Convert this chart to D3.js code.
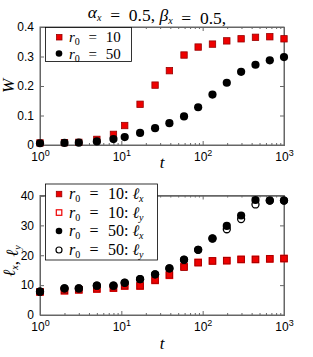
<!DOCTYPE html>
<html>
<head>
<meta charset="utf-8">
<script src="https://cdn.jsdelivr.net/npm/d3@7"></script>
<style>
  body { margin: 0; background: #fff; }
  svg { display: block; }
  .tick text { font-family: "Liberation Sans", Arial, sans-serif; font-size: 12px; fill: #000; }
</style>
</head>
<body>
<script>
// tiempos (eje x, log)
var tiempos = [1, 2, 3, 5, 8, 11, 17, 26, 39, 59, 88, 132, 198, 297, 446, 669, 1000];

// panel superior: W
var W_r10 = [0.007, 0.008, 0.009, 0.019, 0.036, 0.066, 0.138, 0.203, 0.252, 0.305, 0.332, 0.342, 0.353, 0.360, 0.365, 0.367, 0.360];
var W_r50 = [0.006, 0.007, 0.008, 0.012, 0.020, 0.027, 0.041, 0.057, 0.074, 0.097, 0.128, 0.171, 0.211, 0.248, 0.272, 0.287, 0.298];

// panel inferior: lx, ly
var lx_r10 = [7.8, 8.2, 8.5, 8.8, 9.1, 9.8, 9.8, 11.7, 13.5, 16.0, 17.5, 18.1, 18.2, 18.6, 18.6, 18.8, 18.9];
var ly_r10 = [7.7, 8.1, 8.4, 8.7, 9.0, 9.7, 9.7, 11.6, 13.3, 16.2, 17.6, 18.1, 18.2, 18.6, 18.6, 18.8, 18.9];
var lx_r50 = [7.8, 8.9, 8.9, 9.8, 9.8, 10.8, 12.0, 13.6, 15.6, 18.5, 21.8, 25.6, 29.8, 33.3, 38.5, 38.3, 38.3];
var ly_r50 = [7.8, 8.9, 8.9, 9.8, 9.8, 10.8, 12.0, 13.6, 15.6, 18.5, 21.8, 25.6, 28.7, 32.1, 37.0, 38.3, 38.3];

var ticksW = [0, 0.1, 0.2, 0.3, 0.4];
var ticksL = [0, 10, 20, 30, 40];
var ticksX = [1, 10, 100, 1000];

var rojo = "#ee0000", rojoBorde = "#990000";
var serif = "'Liberation Serif', 'DejaVu Serif', serif";

var svg = d3.select("body").append("svg").attr("width", 313).attr("height", 357);

var x = d3.scaleLog().domain([1, 1000]).range([40, 284]);

var menores = [];
[1, 10, 100].forEach(function(d) { for (var k = 2; k < 10; k++) menores.push(d * k); });

function panel(top, bottom, yDom, yTicks, yFmt) {
    var y = d3.scaleLinear().domain(yDom).range([bottom, top]);
    var g = svg.append("g");

    // marco
    g.append("rect").attr("x", 40).attr("y", top).attr("width", 244).attr("height", bottom - top)
        .attr("fill", "none").attr("stroke", "#666").attr("stroke-width", 1);

    // ejes
    var ax = g.append("g").attr("transform", "translate(0," + bottom + ")")
        .call(d3.axisBottom(x).tickValues(ticksX).tickSize(-4).tickPadding(7).tickFormat(function() { return ""; }));
    ax.selectAll(".tick text").each(function(d) {
        var t = d3.select(this);
        t.append("tspan").text("10");
        t.append("tspan").attr("dy", "-0.45em").attr("font-size", "9px").text(Math.round(Math.log10(d)));
    });
    g.append("g").attr("transform", "translate(0," + bottom + ")")
        .call(d3.axisBottom(x).tickValues(menores).tickSize(-2).tickFormat(""));
    g.append("g").attr("transform", "translate(0," + top + ")")
        .call(d3.axisTop(x).tickValues(ticksX).tickSize(-4).tickFormat(""));
    g.append("g").attr("transform", "translate(0," + top + ")")
        .call(d3.axisTop(x).tickValues(menores).tickSize(-2).tickFormat(""));
    g.append("g").attr("transform", "translate(40,0)")
        .call(d3.axisLeft(y).tickValues(yTicks).tickSize(-4).tickPadding(6).tickFormat(yFmt));
    g.append("g").attr("transform", "translate(284,0)")
        .call(d3.axisRight(y).tickValues(yTicks).tickSize(-4).tickFormat(""));
    g.selectAll(".domain").attr("stroke", "#666");
    g.selectAll(".tick line").attr("stroke", "#666");
    return { g: g, y: y };
}

function cuadrados(p, vals, lleno) {
    p.g.selectAll(null).data(vals).enter().append("rect")
        .attr("x", function(d, i) { return x(tiempos[i]) - 3.2; })
        .attr("y", function(d) { return p.y(d) - 3.2; })
        .attr("width", 6.4).attr("height", 6.4)
        .attr("fill", lleno ? rojo : "#fff")
        .attr("stroke", lleno ? rojoBorde : rojo).attr("stroke-width", lleno ? 0.8 : 1.3);
}
function circulos(p, vals, lleno) {
    p.g.selectAll(null).data(vals).enter().append("circle")
        .attr("cx", function(d, i) { return x(tiempos[i]); })
        .attr("cy", function(d) { return p.y(d); })
        .attr("r", lleno ? 4.1 : 3.5)
        .attr("fill", lleno ? "#000" : "#fff")
        .attr("stroke", "#000").attr("stroke-width", lleno ? 0 : 1.3);
}

function texto(sel, xx, yy, tam) {
    return sel.append("text").attr("font-family", serif).attr("font-size", tam + "px")
        .attr("x", xx).attr("y", yy).attr("fill", "#000");
}
function sub(t, s) {
    t.append("tspan").attr("dy", 3).attr("font-size", "10px").attr("font-style", "italic").text(s);
    t.append("tspan").attr("dy", -3).text("");
}
// texto matematico
function rTexto(t, resto, ell) {
    t.append("tspan").attr("font-style", "italic").text("r");
    t.append("tspan").attr("dy", 3).attr("font-size", "10px").text("0");
    t.append("tspan").attr("dy", -3).text("\u2002\u200a=\u2002\u200a" + resto);
    if (ell) {
        t.append("tspan").text(":\u2005");
        t.append("tspan").attr("font-style", "italic").text("\u2113");
        sub(t, ell);
    }
}

// ---- panel superior ----
var p1 = panel(27, 145, [0, 0.4], ticksW, function(d) { return d === 0 ? "0" : d3.format(".1f")(d); });
cuadrados(p1, W_r10, true);
circulos(p1, W_r50, true);

var leg1 = svg.append("g");
leg1.append("rect").attr("x", 45.5).attr("y", 27.5).attr("width", 86).attr("height", 34)
    .attr("fill", "#fff").attr("stroke", "#000").attr("stroke-width", 0.8);
leg1.append("rect").attr("x", 56.5).attr("y", 34.5).attr("width", 5.5).attr("height", 5.5)
    .attr("fill", rojo).attr("stroke", rojoBorde).attr("stroke-width", 0.8);
leg1.append("circle").attr("cx", 59).attr("cy", 53.5).attr("r", 3.3).attr("fill", "#000");
rTexto(texto(leg1, 69, 42, 15), "10");
rTexto(texto(leg1, 69, 58.5, 15), "50");

// ---- panel inferior ----
var p2 = panel(195.5, 315, [0, 40], ticksL, function(d) { return d; });
cuadrados(p2, ly_r10, false);
cuadrados(p2, lx_r10, true);
circulos(p2, ly_r50, false);
circulos(p2, lx_r50, true);

var leg2 = svg.append("g");
leg2.append("rect").attr("x", 45.5).attr("y", 184).attr("width", 112).attr("height", 76)
    .attr("fill", "#fff").attr("stroke", "#000").attr("stroke-width", 0.8);
var filas = [194, 212.5, 231, 250];
leg2.append("rect").attr("x", 56.3).attr("y", filas[0] - 2.7).attr("width", 5.5).attr("height", 5.5)
    .attr("fill", rojo).attr("stroke", rojoBorde).attr("stroke-width", 0.8);
leg2.append("rect").attr("x", 56.3).attr("y", filas[1] - 2.7).attr("width", 5.5).attr("height", 5.5)
    .attr("fill", "#fff").attr("stroke", rojo).attr("stroke-width", 1.2);
leg2.append("circle").attr("cx", 59).attr("cy", filas[2]).attr("r", 3.3).attr("fill", "#000");
leg2.append("circle").attr("cx", 59).attr("cy", filas[3]).attr("r", 3).attr("fill", "#fff")
    .attr("stroke", "#000").attr("stroke-width", 1.2);
[["10", "x"], ["10", "y"], ["50", "x"], ["50", "y"]].forEach(function(e, i) {
    rTexto(texto(leg2, 69, filas[i] + 5, 16), e[0], e[1]);
});

// ---- titulo y etiquetas ----
var tit = texto(svg, 157, 18, 17.5).attr("text-anchor", "middle");
tit.append("tspan").attr("font-style", "italic").text("\u03b1");
sub(tit, "x");
tit.append("tspan").text("\u2002=\u20020.5, ");
tit.append("tspan").attr("font-style", "italic").text("\u03b2");
sub(tit, "x");
tit.append("tspan").text("\u2002=\u20020.5,");

texto(svg, 0, 0, 17).attr("font-style", "italic").attr("text-anchor", "middle")
    .attr("transform", "translate(14,86) rotate(-90)").text("W");

var yl = texto(svg, 0, 0, 17).attr("text-anchor", "middle")
    .attr("transform", "translate(15,261) rotate(-90)");
yl.append("tspan").attr("font-style", "italic").text("\u2113");
sub(yl, "x");
yl.append("tspan").text(", ");
yl.append("tspan").attr("font-style", "italic").text("\u2113");
sub(yl, "y");

texto(svg, 162, 168, 17).attr("font-style", "italic").attr("text-anchor", "middle").text("t");
texto(svg, 162, 349, 17).attr("font-style", "italic").attr("text-anchor", "middle").text("t");
</script>
</body>
</html>
